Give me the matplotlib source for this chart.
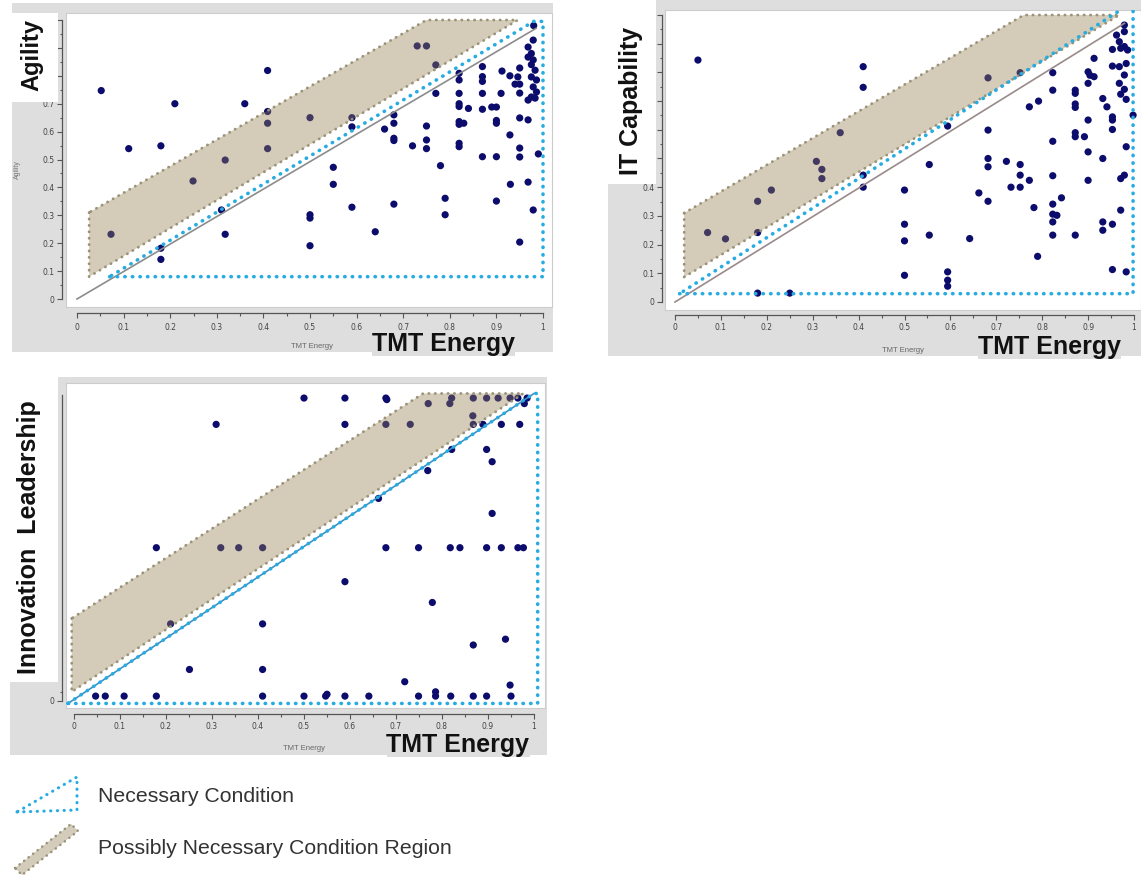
import matplotlib
matplotlib.use("Agg")
import matplotlib.pyplot as plt
from matplotlib.patches import Rectangle, Polygon

# ---------------------------------------------------------------- data
x_ticks = [0, 0.1, 0.2, 0.3, 0.4, 0.5, 0.6, 0.7, 0.8, 0.9, 1.0]
x_tick_labels = ["0", "0.1", "0.2", "0.3", "0.4", "0.5", "0.6", "0.7", "0.8", "0.9", "1"]
y_ticks = [0, 0.1, 0.2, 0.3, 0.4, 0.5, 0.6, 0.7, 0.8, 0.9, 1.0]
y_tick_labels = ["0", "0.1", "0.2", "0.3", "0.4", "0.5", "0.6", "0.7", "0.8", "0.9", "1"]

x_name = "TMT Energy"
y_names = ["Agility", "IT Capability", "Innovation  Leadership"]
legend_labels = ["Necessary Condition", "Possibly Necessary Condition Region"]

agility_x = [0.052, 0.073, 0.111, 0.18, 0.18, 0.18, 0.21, 0.249, 0.318, 0.31, 0.318, 0.36,
             0.409, 0.409, 0.409, 0.409, 0.50, 0.50, 0.50, 0.50, 0.55, 0.55, 0.59, 0.59, 0.59,
             0.64, 0.66, 0.68, 0.68, 0.68, 0.68, 0.68, 0.72, 0.73, 0.75, 0.75, 0.75, 0.75,
             0.77, 0.77, 0.78, 0.79, 0.79,
             0.82, 0.82, 0.82, 0.82, 0.82, 0.82, 0.82, 0.82, 0.82, 0.84, 0.83,
             0.87, 0.87, 0.87, 0.87, 0.87, 0.87,
             0.89, 0.90, 0.90, 0.90, 0.90, 0.90,
             0.912, 0.91, 0.929, 0.929, 0.93, 0.94,
             0.95, 0.946, 0.95, 0.95, 0.95, 0.95, 0.95, 0.95,
             0.968, 0.968, 0.979, 0.99,
             0.98, 0.979, 0.968, 0.975, 0.968, 0.979, 0.975, 0.983, 0.975, 0.986, 0.979,
             0.986, 0.975, 0.968, 0.983]
agility_y = [0.747, 0.232, 0.539, 0.549, 0.182, 0.142, 0.70, 0.423, 0.498, 0.319, 0.232, 0.70,
             0.819, 0.672, 0.63, 0.539, 0.65, 0.302, 0.29, 0.191, 0.472, 0.411, 0.65, 0.617, 0.329,
             0.241, 0.609, 0.66, 0.63, 0.576, 0.568, 0.34, 0.549, 0.907, 0.907, 0.62, 0.57, 0.539,
             0.839, 0.737, 0.478, 0.361, 0.302,
             0.809, 0.785, 0.737, 0.70, 0.69, 0.636, 0.626, 0.558, 0.546, 0.683, 0.63,
             0.833, 0.797, 0.78, 0.737, 0.68, 0.51,
             0.688, 0.688, 0.64, 0.63, 0.51, 0.351,
             0.817, 0.737, 0.80, 0.588, 0.411, 0.77,
             0.828, 0.796, 0.738, 0.649, 0.541, 0.509, 0.204, 0.77,
             0.642, 0.419, 0.319, 0.52,
             0.98, 0.928, 0.903, 0.88, 0.867, 0.857, 0.84, 0.82, 0.796, 0.785, 0.76,
             0.742, 0.724, 0.713, 0.72]

itcap_x = [0.05, 0.071, 0.11, 0.18, 0.18, 0.18, 0.21, 0.25, 0.308, 0.32, 0.32, 0.36,
           0.41, 0.41, 0.41, 0.41, 0.50, 0.50, 0.50, 0.50, 0.554, 0.554, 0.594, 0.594, 0.594,
           0.594, 0.642, 0.662, 0.682, 0.682, 0.682, 0.682, 0.682, 0.722, 0.732, 0.752, 0.752,
           0.752, 0.752, 0.772, 0.772, 0.782, 0.79, 0.792,
           0.823, 0.823, 0.823, 0.823, 0.823, 0.823, 0.823, 0.823, 0.832, 0.842,
           0.872, 0.872, 0.872, 0.872, 0.872, 0.872, 0.892, 0.872,
           0.90, 0.904, 0.90, 0.90, 0.90, 0.90, 0.913, 0.913,
           0.932, 0.941, 0.932, 0.932, 0.932, 0.953, 0.953, 0.953, 0.953, 0.953, 0.953, 0.953,
           0.962, 0.968, 0.971, 0.979, 0.986, 0.968, 0.983, 0.979, 0.968, 0.979, 0.971, 0.983,
           0.998, 0.983, 0.979, 0.971, 0.971, 0.983, 0.979, 0.979]
itcap_y = [0.843, 0.242, 0.22, 0.351, 0.242, 0.031, 0.39, 0.031, 0.49, 0.462, 0.43, 0.59,
           0.82, 0.748, 0.442, 0.40, 0.39, 0.271, 0.213, 0.093, 0.479, 0.233, 0.613, 0.105, 0.076,
           0.055, 0.221, 0.38, 0.781, 0.599, 0.50, 0.471, 0.351, 0.49, 0.40, 0.799, 0.479,
           0.442, 0.40, 0.68, 0.424, 0.329, 0.159, 0.70,
           0.799, 0.738, 0.56, 0.44, 0.341, 0.306, 0.279, 0.233, 0.302, 0.363,
           0.738, 0.727, 0.69, 0.678, 0.59, 0.576, 0.576, 0.233,
           0.802, 0.79, 0.762, 0.634, 0.523, 0.424, 0.849, 0.785,
           0.709, 0.68, 0.50, 0.279, 0.25, 0.88, 0.822, 0.634, 0.645, 0.601, 0.271, 0.113,
           0.93, 0.907, 0.884, 0.89, 0.878, 0.82, 0.831, 0.791, 0.762, 0.741, 0.724, 0.706,
           0.651, 0.541, 0.442, 0.43, 0.32, 0.105, 0.965, 0.942]

innov_x = [0.50, 0.589, 0.678, 0.68, 0.821, 0.868, 0.897, 0.922, 0.948, 0.965, 0.985,
           0.77, 0.817, 0.979, 0.867,
           0.309, 0.589, 0.678, 0.731, 0.868, 0.889, 0.929, 0.969,
           0.821, 0.897, 0.909, 0.769, 0.662, 0.909,
           0.179, 0.319, 0.358, 0.41, 0.678, 0.749, 0.818, 0.839, 0.897, 0.929, 0.965, 0.977,
           0.589, 0.779, 0.21, 0.41, 0.938, 0.868, 0.251, 0.41, 0.719, 0.948, 0.786,
           0.047, 0.068, 0.109, 0.179, 0.41, 0.50, 0.547, 0.55, 0.589, 0.641, 0.749, 0.786,
           0.819, 0.868, 0.897, 0.95]
innov_y = [0.99, 0.99, 0.99, 0.985, 0.99, 0.99, 0.99, 0.99, 0.99, 0.99, 0.99,
           0.972, 0.972, 0.972, 0.932,
           0.904, 0.904, 0.904, 0.904, 0.904, 0.904, 0.904, 0.904,
           0.822, 0.822, 0.782, 0.753, 0.662, 0.613,
           0.501, 0.501, 0.501, 0.501, 0.501, 0.501, 0.501, 0.501, 0.501, 0.501, 0.501, 0.501,
           0.39, 0.322, 0.252, 0.252, 0.202, 0.183, 0.103, 0.103, 0.063, 0.052, 0.03,
           0.016, 0.016, 0.016, 0.016, 0.016, 0.016, 0.016, 0.022, 0.016, 0.016, 0.016, 0.016,
           0.016, 0.016, 0.016, 0.016]

# necessary-condition zone (blue) and possibly-necessary region (tan), data coordinates
agility_nc_x = [0.07, 1.0, 1.0, 0.98, 0.07]
agility_nc_y = [0.08, 0.08, 0.995, 0.995, 0.08]
agility_pnc_x = [0.026, 0.026, 0.946, 0.75, 0.026]
agility_pnc_y = [0.31, 0.08, 1.0, 1.0, 0.31]
agility_line_x = [0.0, 0.985]
agility_line_y = [0.0, 0.97]

itcap_nc_x = [0.01, 0.998, 0.998, 0.983, 0.01]
itcap_nc_y = [0.029, 0.029, 1.03, 1.03, 0.029]
itcap_pnc_x = [0.02, 0.02, 0.968, 0.76, 0.02]
itcap_pnc_y = [0.31, 0.087, 1.0, 1.0, 0.31]
itcap_line_x = [0.0, 0.979]
itcap_line_y = [0.0, 0.971]

innov_nc_x = [-0.013, 1.008, 1.008, 1.0, -0.013]
innov_nc_y = [-0.008, -0.008, 1.005, 1.005, -0.008]
innov_pnc_x = [-0.005, -0.005, 0.977, 0.759, -0.005]
innov_pnc_y = [0.27, 0.03, 1.005, 1.005, 0.27]
innov_line_x = [-0.013, 1.0]
innov_line_y = [-0.008, 1.005]

# ---------------------------------------------------------------- style
W, H = 1141, 877
GRAY = "#dedede"
NAVY = "#0c0c6c"
BLUE = "#27ace2"
TAN = "#947f52"        # drawn with alpha -> beige
TAN_SOLID = "#d4ccba"
TAN_EDGE = "#9a9378"
AXC = "#555555"
FONT = "Liberation Sans"

fig = plt.figure(figsize=(W / 100, H / 100), dpi=100)
fig.patch.set_facecolor("white")


def fbox(x0, y0, x1, y1):
    return [x0 / W, 1 - y1 / H, (x1 - x0) / W, (y1 - y0) / H]


bg = fig.add_axes([0, 0, 1, 1], zorder=-5)
bg.set_xlim(0, W)
bg.set_ylim(H, 0)
bg.axis("off")
fg = fig.add_axes([0, 0, 1, 1], zorder=10)
fg.set_xlim(0, W)
fg.set_ylim(H, 0)
fg.axis("off")
fg.patch.set_alpha(0)


def draw_panel(L, xs, ys, nc_x, nc_y, pnc_x, pnc_y, line_x, line_y, line_color,
               ylab, ylab_size, small_ylab, yt, ytl, ymt):
    gx0, gy0, gx1, gy1 = L["gray"]
    bg.add_patch(Rectangle((gx0, gy0), gx1 - gx0, gy1 - gy0, facecolor=GRAY, edgecolor="none"))
    px0, py0, px1, py1 = L["plot"]
    dx0, dx1 = L["xmap"]
    dy0, dy1 = L["ymap"]
    ax = fig.add_axes(fbox(px0, py0, px1, py1), zorder=1)
    ax.set_facecolor("white")
    ax.set_xlim((px0 - dx0) / (dx1 - dx0), (px1 - dx0) / (dx1 - dx0))
    ax.set_ylim((dy0 - py1) / (dy0 - dy1), (dy0 - py0) / (dy0 - dy1))
    ax.set_xticks([])
    ax.set_yticks([])
    for s in ax.spines.values():
        s.set_color("#cccccc")
        s.set_linewidth(0.8)
    ax.scatter(xs, ys, s=27, color=NAVY, edgecolor="none", zorder=3)
    ax.fill(pnc_x, pnc_y, color=TAN, alpha=0.4, lw=0, zorder=4)
    ax.plot(pnc_x, pnc_y, color=TAN_EDGE, lw=2.0, linestyle=(0, (0.1, 2.2)),
            dash_capstyle="round", zorder=5)
    ax.plot(line_x, line_y, color=line_color, lw=1.2, zorder=5)
    ax.plot(nc_x, nc_y, color=BLUE, lw=2.6, linestyle=(0, (0.1, 2.0)),
            dash_capstyle="round", zorder=6)

    # y axis
    sx = L["yspine"]
    ya = fig.add_axes(fbox(sx, dy1, sx + 2, dy0), zorder=2)
    ya.patch.set_alpha(0)
    ya.set_ylim(0, 1)
    ya.set_xlim(0, 1)
    for k in ["top", "right", "bottom"]:
        ya.spines[k].set_visible(False)
    ya.spines["left"].set_color(AXC)
    ya.spines["left"].set_linewidth(0.9)
    ya.set_xticks([])
    ya.set_yticks(yt)
    ya.set_yticklabels(ytl, fontsize=5.5, color="#444444", family="DejaVu Sans")
    ya.set_yticks(ymt, minor=True)
    ya.tick_params(axis="y", which="major", length=3.5, width=0.8, color=AXC, pad=2)
    ya.tick_params(axis="y", which="minor", length=1.8, width=0.8, color=AXC)

    # x axis
    xy = L["xaxis"]
    xa = fig.add_axes(fbox(dx0, xy - 2, dx1, xy), zorder=2)
    xa.patch.set_alpha(0)
    xa.set_xlim(0, 1)
    for k in ["top", "right", "left"]:
        xa.spines[k].set_visible(False)
    xa.spines["bottom"].set_color(AXC)
    xa.spines["bottom"].set_linewidth(0.9)
    xa.set_yticks([])
    xa.set_xticks(x_ticks)
    xa.set_xticklabels(x_tick_labels, fontsize=5.5, color="#444444", family="DejaVu Sans")
    xa.set_xticks([t + 0.05 for t in x_ticks[:-1]], minor=True)
    xa.tick_params(axis="x", which="major", length=3.5, width=0.8, color=AXC, pad=L["xpad"])
    xa.tick_params(axis="x", which="minor", length=1.8, width=0.8, color=AXC)

    # white box that hides part of the y labels, with the big axis title
    bx0, by0, bx1, by1 = L["labelbox"]
    fg.add_patch(Rectangle((bx0, by0), bx1 - bx0, by1 - by0, facecolor="white",
                           edgecolor="none", zorder=1))
    fg.text(L["ylab"][0], L["ylab"][1], ylab, rotation=90, ha="center", va="center",
            fontsize=ylab_size, fontweight="bold", family=FONT, color="#111111", zorder=3)
    if small_ylab:
        fg.text(L["ysmall"][0], L["ysmall"][1], small_ylab, rotation=90, ha="center",
                va="center", fontsize=5, family=FONT, color="#777777", zorder=3)
    fg.text(L["xsmall"][0], L["xsmall"][1], x_name, ha="center", va="center",
            fontsize=5.5, family=FONT, color="#666666", zorder=3)
    fg.text(L["xbig"][0], L["xbig"][1], x_name, ha="center", va="center",
            fontsize=18, fontweight="bold", family=FONT, color="#111111", zorder=3,
            bbox=dict(boxstyle="square,pad=0.0", facecolor=GRAY, edgecolor="none"))


P1 = dict(gray=(12, 3, 553, 352), plot=(66, 13, 552, 307), xmap=(77, 543), ymap=(299, 20),
          yspine=62, xaxis=313, xpad=4, labelbox=(0, 13, 58, 102), ylab=(32, 55),
          ysmall=(17, 170), xsmall=(312, 347), xbig=(443, 344))
P2 = dict(gray=(608, 0, 1141, 356), plot=(665, 10, 1141, 310), xmap=(675, 1134), ymap=(302, 15),
          yspine=662, xaxis=315, xpad=2.5, labelbox=(598, 0, 656, 184), ylab=(631, 101),
          ysmall=None, xsmall=(903, 350), xbig=(1049, 347))
P3 = dict(gray=(10, 377, 547, 755), plot=(66, 383, 545, 708), xmap=(74, 534), ymap=(701, 395),
          yspine=62, xaxis=714, xpad=2.5, labelbox=(0, 370, 58, 682), ylab=(29, 537),
          ysmall=None, xsmall=(304, 748), xbig=(458, 745))

minor_y = [t + 0.05 for t in y_ticks[:-1]]
draw_panel(P1, agility_x, agility_y, agility_nc_x, agility_nc_y, agility_pnc_x, agility_pnc_y,
           agility_line_x, agility_line_y, "#8c8c8c", y_names[0], 17, y_names[0],
           y_ticks, y_tick_labels, minor_y)
draw_panel(P2, itcap_x, itcap_y, itcap_nc_x, itcap_nc_y, itcap_pnc_x, itcap_pnc_y,
           itcap_line_x, itcap_line_y, "#9a8a8a", y_names[1], 18, None,
           y_ticks, y_tick_labels, minor_y)
draw_panel(P3, innov_x, innov_y, innov_nc_x, innov_nc_y, innov_pnc_x, innov_pnc_y,
           innov_line_x, innov_line_y, "#3f8fc2", y_names[2], 18, None,
           [0], ["0"], [0.03])

# ---------------------------------------------------------------- legend
fg.plot([17, 77, 77, 17], [812, 810, 777, 812], color=BLUE, lw=2.2,
        linestyle=(0, (0.1, 2.1)), dash_capstyle="round", zorder=4)
band = [(15, 868), (71, 824), (78, 831), (22, 875)]
fg.add_patch(Polygon(band, closed=True, facecolor=TAN_SOLID, edgecolor="none", zorder=3))
bx = [p[0] for p in band] + [band[0][0]]
by = [p[1] for p in band] + [band[0][1]]
fg.plot(bx, by, color=TAN_EDGE, lw=1.8, linestyle=(0, (0.1, 2.2)),
        dash_capstyle="round", zorder=4)
fg.text(98, 797, legend_labels[0], ha="left", va="center", fontsize=15.3,
        family=FONT, color="#333333", zorder=4)
fg.text(98, 849, legend_labels[1], ha="left", va="center", fontsize=15.3,
        family=FONT, color="#333333", zorder=4)

fig.savefig("out.png", dpi=100)
